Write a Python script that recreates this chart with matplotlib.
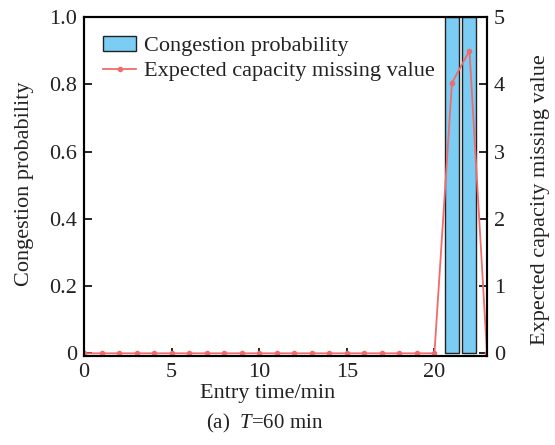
import matplotlib.pyplot as plt
import numpy as np

plt.rcParams['font.family'] = 'Liberation Serif'
plt.rcParams['mathtext.fontset'] = 'custom'
plt.rcParams['mathtext.rm'] = 'Liberation Serif'
plt.rcParams['mathtext.it'] = 'Liberation Serif:italic'

# Congestion probability per entry minute (bars)
bar_times = [21, 22]
congestion_prob = [1.0, 1.0]

# Expected capacity missing value per entry minute (line)
entry_times = np.arange(0, 24)
missing_value = [0, 0, 0, 0, 0, 0, 0, 0, 0, 0, 0, 0, 0, 0, 0, 0, 0, 0, 0, 0,
                 0, 4.02, 4.5, 0]

W, H = 555, 445
fig = plt.figure(figsize=(W / 100, H / 100), dpi=100)
ax = fig.add_axes([84 / W, 1 - 356 / H, (487 - 84) / W, (356 - 17) / H])
ax2 = ax.twinx()

b = ax.bar(bar_times, congestion_prob, width=0.8, color='#7ccdf3',
           edgecolor='#222222', linewidth=1.0, label='Congestion probability')
ln, = ax2.plot(entry_times, missing_value, color='#f26b6b', marker='o',
               markersize=3, linewidth=1.3, label='Expected capacity missing value')

ax.set_xlim(0, 23)
ax.set_ylim(-0.008, 1.0)
ax2.set_ylim(-0.04, 5)
ax.set_xticks([0, 5, 10, 15, 20])
ax.set_yticks([0, 0.2, 0.4, 0.6, 0.8, 1.0])
ax.set_yticklabels(['0', '0.2', '0.4', '0.6', '0.8', '1.0'])
ax2.set_yticks([0, 1, 2, 3, 4, 5])

for a in (ax, ax2):
    a.tick_params(direction='in', length=6, width=1.2, labelsize=16, pad=5,
                  labelcolor='#222222')
    for s in a.spines.values():
        s.set_linewidth(1.5)

ax.set_xlabel('Entry time/min', fontsize=16, color='#222222')
ax.xaxis.set_label_coords((268 - 84) / 403, -0.082)
ax.set_ylabel('Congestion probability', fontsize=16, color='#222222')
ax.yaxis.set_label_coords((34 - 84) / 403, 1 - (184 - 17) / 339)
ax2.set_ylabel('Expected capacity missing value', fontsize=16, color='#222222')
ax2.yaxis.set_label_coords((531 - 84) / 403, 1 - (200 - 17) / 339)

leg = ax2.legend([b, ln], ['Congestion probability', 'Expected capacity missing value'],
                 loc='upper left', frameon=False, fontsize=16, handlelength=1.5,
                 handletextpad=0.35, borderaxespad=0.45, labelspacing=0.2)
for t in leg.get_texts():
    t.set_color('#222222')

fig.text(265 / W, 1 - 428 / H, '(a)  $T$=60 min', ha='center', fontsize=15,
         color='#222222')

fig.savefig('out.png', dpi=100)
